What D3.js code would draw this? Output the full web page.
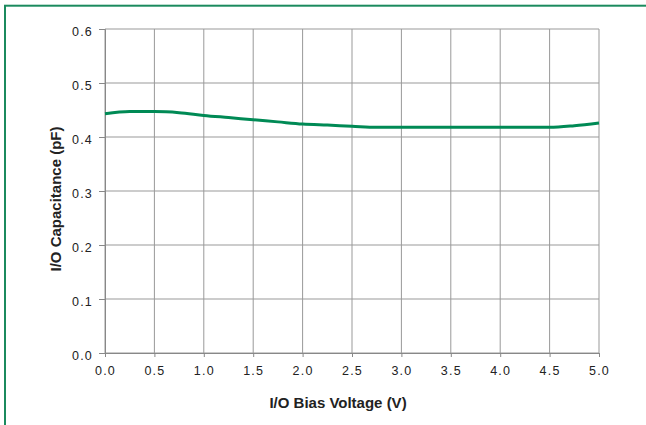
<!DOCTYPE html>
<html>
<head>
<meta charset="utf-8">
<script src="https://cdn.jsdelivr.net/npm/d3@7"></script>
<style>
  body { margin: 0; background: #fff; overflow: hidden; }
  text { font-family: "Liberation Sans", Arial, sans-serif; fill: #222; }
</style>
</head>
<body>
<div id="chart"></div>
<script>
// bias voltage (V) and capacitance (pF)
const voltage = [0, 0.25, 0.5, 0.75, 1.0, 1.25, 1.5, 1.75, 2.0, 2.25, 2.5, 2.75, 3.0, 3.25, 3.5, 3.75, 4.0, 4.25, 4.5, 4.75, 5.0]
const capacitance = [0.443, 0.447, 0.447, 0.445, 0.440, 0.436, 0.432, 0.428, 0.424, 0.422, 0.420, 0.418, 0.418, 0.418, 0.418, 0.418, 0.418, 0.418, 0.418, 0.421, 0.426]
const xTicks = [0, 0.5, 1, 1.5, 2, 2.5, 3, 3.5, 4, 4.5, 5]
const yTicks = [0, 0.1, 0.2, 0.3, 0.4, 0.5, 0.6]

const width = 646
const height = 425
const margin = { top: 29, right: 47, bottom: 72, left: 105 }

const svg = d3.select('#chart').append('svg').attr('width', width).attr('height', height)

// outer green frame (only top and left edges fall inside the picture)
svg.append('rect')
  .attr('x', 5).attr('y', 5.7)
  .attr('width', width + 20).attr('height', height + 20)
  .attr('fill', 'none')
  .attr('stroke', '#1b8a5e')
  .attr('stroke-width', 2)

const x = d3.scaleLinear().domain([0, 5]).range([margin.left, width - margin.right])
const y = d3.scaleLinear().domain([0, 0.6]).range([height - margin.bottom, margin.top])

// grid
svg.append('g')
  .selectAll('line')
  .data(xTicks)
  .join('line')
  .attr('x1', d => x(d)).attr('x2', d => x(d))
  .attr('y1', y(0)).attr('y2', y(0.6))
  .attr('stroke', '#999').attr('stroke-width', 1)

svg.append('g')
  .selectAll('line')
  .data(yTicks)
  .join('line')
  .attr('x1', x(0)).attr('x2', x(5))
  .attr('y1', d => y(d)).attr('y2', d => y(d))
  .attr('stroke', '#999').attr('stroke-width', 1)

// axes
const xAxis = svg.append('g')
  .attr('transform', `translate(0,${y(0)})`)
  .call(d3.axisBottom(x).tickValues(xTicks).tickFormat(d3.format('.1f')).tickSize(4).tickPadding(9))
const yAxis = svg.append('g')
  .attr('transform', `translate(${x(0)},0)`)
  .call(d3.axisLeft(y).tickValues(yTicks).tickFormat(d3.format('.1f')).tickSize(6).tickPadding(6))

for (const ax of [xAxis, yAxis]) {
  ax.select('.domain').attr('stroke', '#888')
  ax.selectAll('.tick line').attr('stroke', '#888')
  ax.selectAll('.tick text').attr('font-size', 12.5).attr('fill', '#222')
    .style('font-family', '"Liberation Sans", Arial, sans-serif')
    .style('letter-spacing', '1.2px')
}
yAxis.selectAll('.tick text').attr('dy', '0.55em')

// curve
const line = d3.line()
  .x((d, i) => x(voltage[i]))
  .y(d => y(d))
  .curve(d3.curveMonotoneX)

svg.append('path')
  .datum(capacitance)
  .attr('d', line)
  .attr('fill', 'none')
  .attr('stroke', '#008a55')
  .attr('stroke-width', 3)

// axis titles
svg.append('text')
  .attr('x', 338).attr('y', 408)
  .attr('text-anchor', 'middle')
  .attr('font-size', 15).attr('font-weight', 'bold')
  .text('I/O Bias Voltage (V)')

svg.append('text')
  .attr('transform', 'translate(61,199) rotate(-90)')
  .attr('text-anchor', 'middle')
  .attr('font-size', 15).attr('font-weight', 'bold')
  .text('I/O Capacitance (pF)')
</script>
</body>
</html>
